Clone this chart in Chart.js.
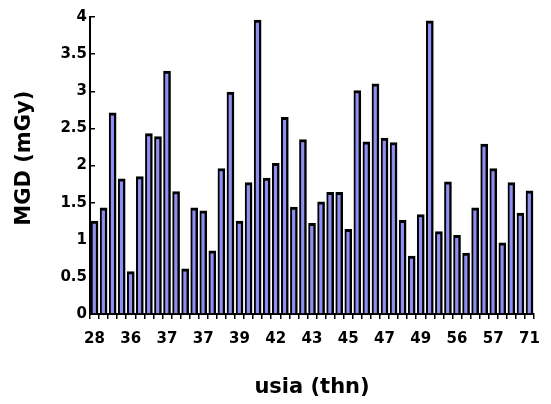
<!DOCTYPE html>
<html>
<head>
<meta charset="utf-8">
<script src="https://cdn.jsdelivr.net/npm/chart.js@4/dist/chart.umd.min.js"></script>
<style>
html, body { margin: 0; padding: 0; background: #ffffff; }
#wrap { width: 551px; height: 404px; }
</style>
</head>
<body>
<div id="wrap"><canvas id="c" width="551" height="404"></canvas></div>
<script>
// Ages (categories); only every 4th is labelled on the axis
const ages = [28, 30, 32, 35, 36, 36, 36, 37, 37, 37, 37, 37, 37, 38, 38, 39, 39, 40, 41, 41,
              42, 42, 42, 43, 43, 44, 44, 45, 45, 46, 46, 47, 47, 47, 48, 48, 49, 50, 52, 54,
              56, 56, 57, 57, 57, 58, 60, 65, 71];
// Mean glandular dose (mGy)
const mgd = [1.25, 1.43, 2.71, 1.82, 0.57, 1.85, 2.43, 2.39, 3.27, 1.65,
             0.61, 1.43, 1.39, 0.85, 1.96, 2.99, 1.25, 1.77, 3.96, 1.83,
             2.03, 2.65, 1.44, 2.35, 1.22, 1.51, 1.64, 1.64, 1.14, 3.01,
             2.32, 3.10, 2.37, 2.31, 1.26, 0.78, 1.34, 3.95, 1.11, 1.78,
             1.06, 0.82, 1.43, 2.29, 1.96, 0.96, 1.77, 1.36, 1.66];
const yTicks = [0, 0.5, 1, 1.5, 2, 2.5, 3, 3.5, 4];
const xLabelEvery = 4;
const xTitle = 'usia (thn)';
const yTitle = '  MGD (mGy)';

const FONT = "'DejaVu Sans', Verdana, sans-serif";

new Chart(document.getElementById('c'), {
  type: 'bar',
  data: {
    labels: ages.map(String),
    datasets: [{
      data: mgd,
      backgroundColor: '#8f8ff2',
      borderColor: '#000000',
      borderWidth: { left: 2, right: 2.5, top: 3, bottom: 0 },
      borderSkipped: false,
      barThickness: 7
    }]
  },
  options: {
    responsive: false,
    animation: false,
    devicePixelRatio: 1,
    layout: { padding: { top: 15, right: 4, left: 0, bottom: 0 } },
    plugins: { legend: { display: false }, tooltip: { enabled: false } },
    scales: {
      x: {
        grid: { display: true, drawOnChartArea: false, tickLength: 5, color: '#000', lineWidth: 1.5, offset: true },
        border: { display: true, color: '#000', width: 2 },
        ticks: {
          autoSkip: false, maxRotation: 0, minRotation: 0, padding: 11,
          color: '#000', font: { family: FONT, size: 15, weight: 'bold' },
          callback: function(v, i) { return i % xLabelEvery === 0 ? ages[i] : ''; }
        },
        title: { display: true, text: xTitle, color: '#000', font: { family: FONT, size: 21, weight: 'bold' }, padding: { top: 0, bottom: 4 } },
        afterFit: function(s) { s.height = 90; }
      },
      y: {
        min: 0, max: 4,
        afterBuildTicks: function(s) { s.ticks = yTicks.map(v => ({ value: v })); },
        grid: { display: true, drawOnChartArea: false, tickLength: -5, color: '#000', lineWidth: 1.5 },
        border: { display: true, color: '#000', width: 2 },
        ticks: {
          padding: 8, color: '#000', font: { family: FONT, size: 15, weight: 'bold' },
          callback: function(v) { return String(v); }
        },
        title: { display: true, text: yTitle, color: '#000', font: { family: FONT, size: 21, weight: 'bold' }, padding: { top: 12, bottom: 0 } },
        afterFit: function(s) { s.width = 90; }
      }
    }
  }
});
</script>
</body>
</html>
